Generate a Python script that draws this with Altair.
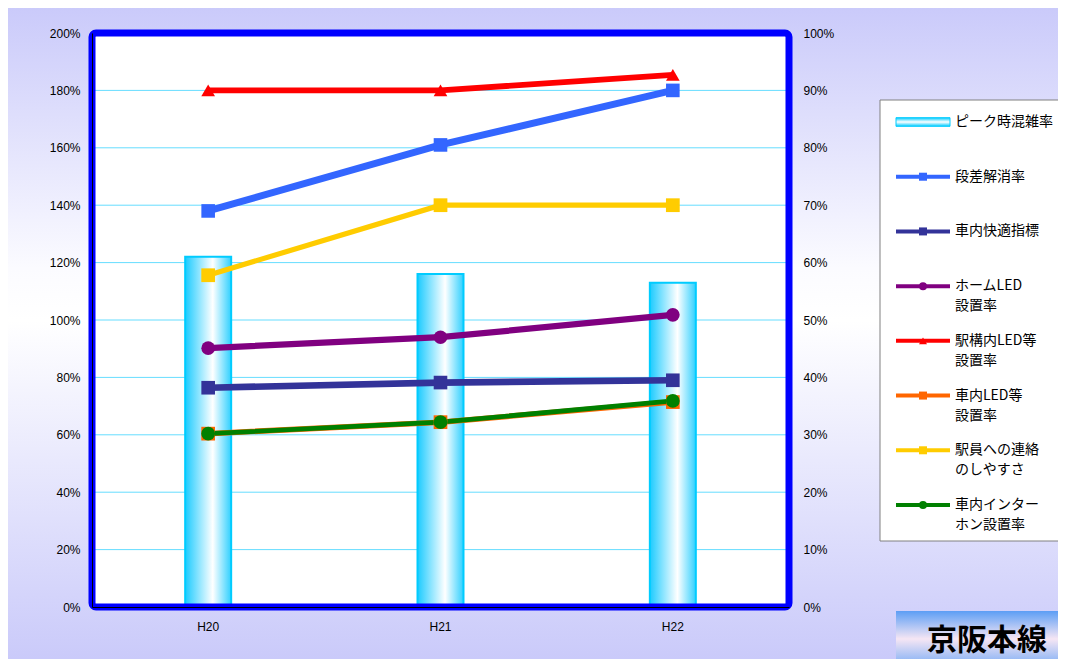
import altair as alt
import pandas as pd

# ---------------- data ----------------
years = ["H20", "H21", "H22"]
peak_rate = [1.22, 1.16, 1.13]          # left axis (ピーク時混雑率)

series_names = ["段差解消率", "車内快適指標", "ホームLED設置率", "駅構内LED等設置率",
                "車内LED等設置率", "駅員への連絡のしやすさ", "車内インターホン設置率"]
dansa = [0.69, 0.805, 0.90]
kaiteki = [0.382, 0.391, 0.395]
home_led = [0.451, 0.470, 0.509]
eki_led = [0.90, 0.90, 0.927]
sha_led = [0.302, 0.322, 0.357]
ekiin = [0.578, 0.70, 0.70]
interphone = [0.302, 0.322, 0.359]
series_values = [dansa, kaiteki, home_led, eki_led, sha_led, ekiin, interphone]

series_colors = ["#3366ff", "#333399", "#800080", "#ff0000", "#ff6600", "#ffcc00", "#008000"]
series_shapes = ["square", "square", "circle", "triangle-up", "square", "square", "circle"]
series_sizes = [185, 190, 200, 225, 170, 200, 190]
series_widths = [7, 4.8, 4.8, 4.8, 4.8, 4.8, 4.8]

legend_line1 = ["ピーク時混雑率", "段差解消率", "車内快適指標", "ホームLED", "駅構内LED等",
                "車内LED等", "駅員への連絡", "車内インター"]
legend_line2 = ["", "", "", "設置率", "設置率", "設置率", "のしやすさ", "ホン設置率"]

left_ticks = [0, 0.2, 0.4, 0.6, 0.8, 1.0, 1.2, 1.4, 1.6, 1.8, 2.0]
right_ticks = [0, 0.1, 0.2, 0.3, 0.4, 0.5, 0.6, 0.7, 0.8, 0.9, 1.0]
grid_vals = [0.2, 0.4, 0.6, 0.8, 1.0, 1.2, 1.4, 1.6, 1.8]
title_text = "京阪本線"

# ---------------- tables ----------------
df_peak = pd.DataFrame({"year": years, "rate": peak_rate})
rows = []
for name, vals in zip(series_names, series_values):
    for yr, v in zip(years, vals):
        rows.append({"series": name, "year": yr, "val": v})
df_lines = pd.DataFrame(rows)
df_grid = pd.DataFrame({"g": grid_vals})
df_leg = pd.DataFrame({
    "li": list(range(len(legend_line1))),
    "l1": legend_line1,
    "l2": legend_line2,
    "series": ["peak"] + series_names,
})
df_leg_lines = df_leg[df_leg["series"] != "peak"]
df_leg_bar = df_leg[df_leg["series"] == "peak"]
one = pd.DataFrame({"a": [0]})

W, H = 697, 574
FONT = "Liberation Sans"
JFONT = "Noto Sans CJK JP"

color_scale = alt.Scale(domain=series_names, range=series_colors)
shape_scale = alt.Scale(domain=series_names, range=series_shapes)

x_enc = alt.X(
    "year:N", sort=years,
    scale=alt.Scale(domain=years, paddingInner=0, paddingOuter=0),
    axis=alt.Axis(title=None, labelAngle=0, labelFontSize=12, labelFont=FONT,
                  labelColor="black", labelPadding=14, ticks=False, domain=True,
                  domainColor="black", domainWidth=1, zindex=1),
)

leg_y = alt.Y("li:Q", scale=alt.Scale(domain=[0, 7], range=[89, 472]), axis=None)

# ---------------- layers ----------------
bg = alt.Chart(one).mark_rect(
    fill=alt.LinearGradient(gradient="linear", x1=0, x2=0, y1=0, y2=1, stops=[
        alt.GradientStop(color="#cacafa", offset=0),
        alt.GradientStop(color="#fbfbff", offset=0.40),
        alt.GradientStop(color="#ffffff", offset=0.48),
        alt.GradientStop(color="#cacafa", offset=1),
    ])
).encode(x=alt.value(-84), x2=alt.value(W + 269), y=alt.value(-25), y2=alt.value(H + 52))

plot_bg = alt.Chart(one).mark_rect(fill="white").encode(
    x=alt.value(0), x2=alt.value(W), y=alt.value(0), y2=alt.value(H))

grid = alt.Chart(df_grid).mark_rule(color="#66ddff", strokeWidth=1).encode(
    y=alt.Y("g:Q", scale=alt.Scale(domain=[0, 2]), axis=None))

bars = alt.Chart(df_peak).mark_bar(
    size=46, stroke="#00ccff", strokeWidth=2,
    fill=alt.LinearGradient(gradient="linear", x1=0, x2=1, y1=0, y2=0, stops=[
        alt.GradientStop(color="#1ccbff", offset=0),
        alt.GradientStop(color="#ffffff", offset=0.6),
        alt.GradientStop(color="#30d0ff", offset=1),
    ])
).encode(
    x=x_enc,
    y=alt.Y("rate:Q", scale=alt.Scale(domain=[0, 2], nice=False),
            axis=alt.Axis(orient="left", format=".0%", values=left_ticks, title=None,
                          grid=False, ticks=False, domain=True, domainColor="black",
                          domainWidth=1, labelFontSize=12, labelFont=FONT,
                          labelColor="black", labelPadding=12, zindex=1)),
)

lines = alt.Chart(df_lines).mark_line().encode(
    x=x_enc,
    y=alt.Y("val:Q", scale=alt.Scale(domain=[0, 1], nice=False),
            axis=alt.Axis(orient="right", format=".0%", values=right_ticks, title=None,
                          grid=False, ticks=False, domain=False, labelFontSize=12,
                          labelFont=FONT, labelColor="black", labelPadding=14, zindex=1)),
    color=alt.Color("series:N", scale=color_scale, legend=None),
    strokeWidth=alt.StrokeWidth("series:N", scale=alt.Scale(domain=series_names, range=series_widths), legend=None),
    detail="series:N",
)

points = alt.Chart(df_lines).mark_point(filled=True, opacity=1).encode(
    x=x_enc,
    y=alt.Y("val:Q", scale=alt.Scale(domain=[0, 1], nice=False), axis=None),
    color=alt.Color("series:N", scale=color_scale, legend=None),
    shape=alt.Shape("series:N", scale=shape_scale, legend=None),
    size=alt.Size("series:N", scale=alt.Scale(domain=series_names, range=series_sizes), legend=None),
)

frame = alt.Chart(one).mark_rect(fillOpacity=0, stroke="#0000ff", strokeWidth=7, cornerRadius=4).encode(
    x=alt.value(0), x2=alt.value(W), y=alt.value(0), y2=alt.value(H))

leg_box = alt.Chart(one).mark_rect(fill="white", stroke="#808080", strokeWidth=1).encode(
    x=alt.value(788), x2=alt.value(972), y=alt.value(67), y2=alt.value(508))

leg_bar = alt.Chart(df_leg_bar).mark_point(
    shape="M-1,-0.16H1V0.16H-1Z", size=2916, filled=True, opacity=1,
    stroke="#00ccff", strokeWidth=1,
    fill=alt.LinearGradient(gradient="linear", x1=0, x2=0, y1=0, y2=1, stops=[
        alt.GradientStop(color="#00ccff", offset=0),
        alt.GradientStop(color="#ffffff", offset=0.5),
        alt.GradientStop(color="#00ccff", offset=1),
    ])
).encode(x=alt.value(831), y=leg_y)

leg_rules = alt.Chart(df_leg_lines).mark_rule(strokeWidth=4).encode(
    x=alt.value(804), x2=alt.value(858), y=leg_y,
    color=alt.Color("series:N", scale=color_scale, legend=None))

leg_pts = alt.Chart(df_leg_lines).mark_point(filled=True, opacity=1, size=64).encode(
    x=alt.value(831), y=leg_y,
    color=alt.Color("series:N", scale=color_scale, legend=None),
    shape=alt.Shape("series:N", scale=shape_scale, legend=None))

leg_t1 = alt.Chart(df_leg).mark_text(align="left", baseline="middle", font=JFONT,
                                     fontSize=14, color="black").encode(
    x=alt.value(863), y=leg_y, text="l1:N")

leg_t2 = alt.Chart(df_leg).mark_text(align="left", baseline="middle", font=JFONT,
                                     fontSize=14, color="black", dy=20).encode(
    x=alt.value(863), y=leg_y, text="l2:N")

title_box = alt.Chart(one).mark_rect(
    fill=alt.LinearGradient(gradient="linear", x1=0, x2=0, y1=0, y2=1, stops=[
        alt.GradientStop(color="#5c9ef5", offset=0),
        alt.GradientStop(color="#f6e6f4", offset=0.45),
        alt.GradientStop(color="#5c9ef5", offset=1),
    ])
).encode(x=alt.value(804), x2=alt.value(980), y=alt.value(578), y2=alt.value(640))

title = alt.Chart(one).mark_text(font=JFONT, fontSize=30, fontWeight="bold",
                                 align="center", baseline="middle", color="black").encode(
    x=alt.value(895), y=alt.value(608), text=alt.value(title_text))

chart = alt.layer(
    bg, plot_bg, grid, bars, lines, points, frame,
    leg_box, leg_bar, leg_rules, leg_pts, leg_t1, leg_t2, title_box, title,
).resolve_scale(y="independent").properties(
    width=W, height=H,
    autosize=alt.AutoSizeParams(type="none"),
    padding={"left": 84, "top": 25, "right": 269, "bottom": 52},
    background="white",
).configure_view(strokeWidth=0)

chart.save("out.html", embed_options={"renderer": "svg", "actions": False})
